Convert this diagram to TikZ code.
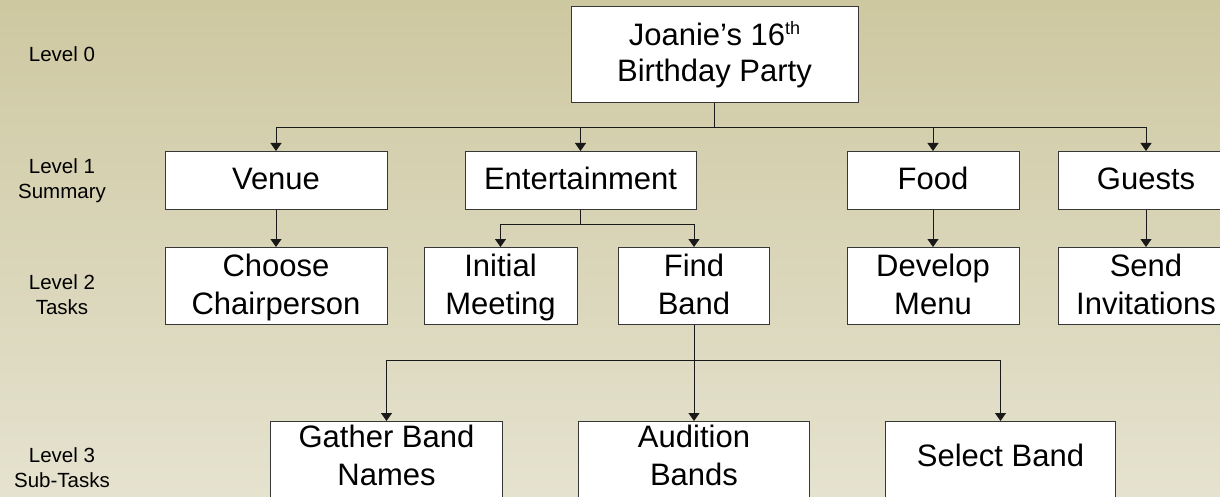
\documentclass[tikz,border=0pt]{standalone}
\usepackage{fontspec}
\setmainfont{Liberation Sans}
\usetikzlibrary{arrows.meta,calc}
\pgfdeclarelayer{bg}
\pgfsetlayers{bg,main}
\definecolor{bgtop}{RGB}{206,200,161}
\definecolor{bgbot}{RGB}{229,226,207}
\definecolor{edge}{RGB}{55,55,55}
\definecolor{wire}{RGB}{25,25,25}
\newcommand\mystrut{\rule{0pt}{26pt}\rule[-8pt]{0pt}{8pt}}
\begin{document}
\begin{tikzpicture}[x=1pt,y=-1pt,
  box/.style={draw=edge, line width=1pt, fill=white, inner sep=0pt, align=center,
    font=\fontsize{31}{38}\selectfont, text=black},
  lvthree/.style={inner sep=0pt, align=center, font=\fontsize{31}{38}\selectfont,
    text=black, minimum height=73pt, anchor=north},
  lab/.style={font=\fontsize{20.5}{25}\selectfont, anchor=base, inner sep=0pt, text=black},
  arr/.style={line width=1pt, draw=wire, -{Triangle[width=11pt,length=8pt]}},
  ln/.style={line width=1pt, draw=wire}]
\useasboundingbox (0,0) rectangle (1220,497);
\begin{pgfonlayer}{bg}
\shade[top color=bgtop, bottom color=bgbot] (0,0) rectangle (1220,497);
\end{pgfonlayer}

% Level 0
\node[box, font=\fontsize{31}{36}\selectfont, minimum width=287pt, minimum height=96pt] (root) at (714.5,55)
  {\mystrut Joanie’s 16\raisebox{0.36em}{\fontsize{18}{18}\selectfont th}\\\mystrut Birthday Party};

% Level 1
\node[box, minimum width=222pt, minimum height=58pt] (venue)  at (276,180.5) {\mystrut Venue};
\node[box, minimum width=231pt, minimum height=58pt] (ent)    at (580.5,180.5) {\mystrut Entertainment};
\node[box, minimum width=172pt, minimum height=58pt] (food)   at (933,180.5) {\mystrut Food};
\node[box, minimum width=176pt, minimum height=58pt] (guests) at (1146,180.5) {\mystrut Guests};

% Level 2
\node[box, minimum width=222pt, minimum height=77pt] (choose)  at (276,286) {\mystrut Choose\\\mystrut Chairperson};
\node[box, minimum width=153pt, minimum height=77pt] (initial) at (500.5,286) {\mystrut Initial\\\mystrut Meeting};
\node[box, minimum width=151pt, minimum height=77pt] (find)    at (694,286) {\mystrut Find\\\mystrut Band};
\node[box, minimum width=172pt, minimum height=77pt] (menu)    at (933,286) {\mystrut Develop\\\mystrut Menu};
\node[box, minimum width=176pt, minimum height=77pt] (invite)  at (1146,286) {\mystrut Send\\\mystrut Invitations};

% Level 3 (boxes run past the bottom edge)
\node[lvthree, minimum width=231pt] (gather)   at (386.5,421) {\mystrut Gather Band\\\mystrut Names};
\node[lvthree, minimum width=231pt] (audition) at (694,421) {\mystrut Audition\\\mystrut Bands};
\node[lvthree, minimum width=230pt] (select)   at (1000.5,421) {\mystrut Select Band};
\begin{pgfonlayer}{bg}
\foreach \n in {gather,audition,select}
  \draw[draw=edge, line width=1pt, fill=white] (\n.north west) rectangle ($(\n.south east)+(0,30)$);
\end{pgfonlayer}

% Level labels
\node[lab] (l0)  at (62,62)  {Level 0};
\node[lab] (l1a) at (62,174) {Level 1};
\node[lab] (l1b) at (62,199) {Summary};
\node[lab] (l2a) at (62,289) {Level 2};
\node[lab] (l2b) at (62,314) {Tasks};
\node[lab] (l3a) at (62,462) {Level 3};
\node[lab] (l3b) at (62,487) {Sub-Tasks};

% Connectors
\path (root.south) ++(0,24) coordinate (b0);
\draw[ln] (root.south) -- (b0);
\foreach \n in {venue,ent,food,guests} \draw[arr] (b0) -| (\n);

\path (ent.south) ++(0,14.5) coordinate (b1);
\draw[ln] (ent.south) -- (b1);
\draw[arr] (b1) -| (initial);
\draw[arr] (b1) -| (find);

\draw[arr] (venue) -- (choose);
\draw[arr] (food) -- (menu);
\draw[arr] (guests) -- (invite);

\path (find.south) ++(0,35.5) coordinate (b2);
\draw[ln] (find.south) -- (b2);
\draw[arr] (b2) -| (gather);
\draw[arr] (b2) -- (audition);
\draw[arr] (b2) -| (select);
\end{tikzpicture}
\end{document}
